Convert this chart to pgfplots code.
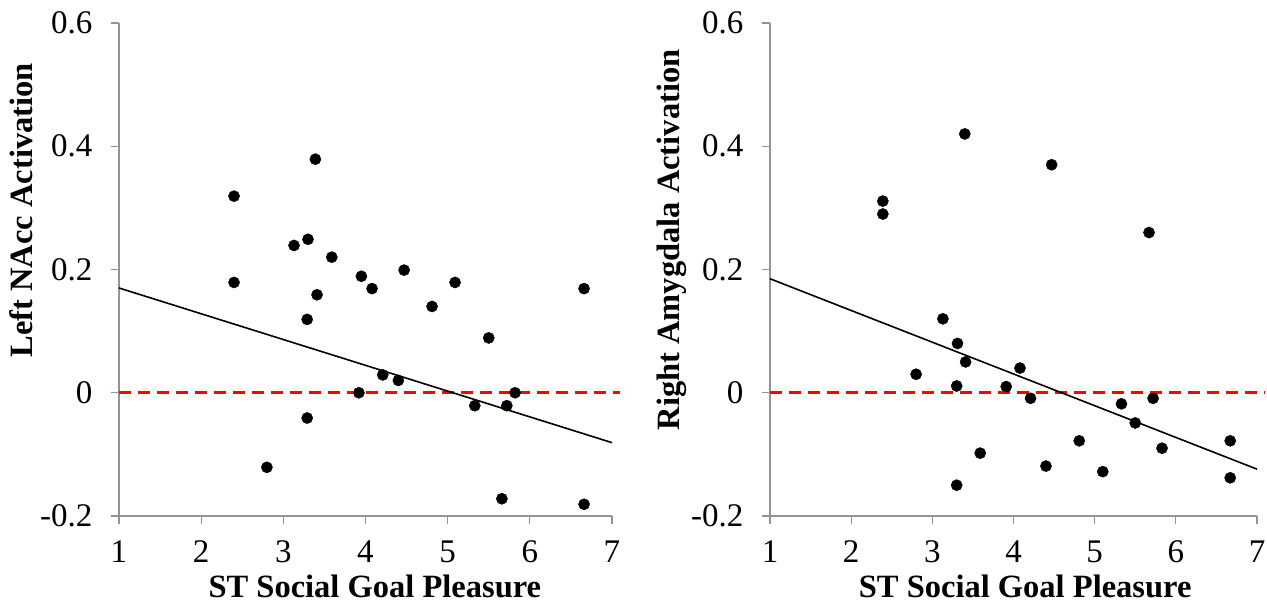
\documentclass[border=0pt]{standalone}
\usepackage{fontspec}
\setmainfont{Liberation Serif}
\usepackage{pgfplots}
\pgfplotsset{compat=1.18}
\begin{document}
\begin{tikzpicture}
\path[use as bounding box] (-119bp,-86bp) rectangle (1148bp,516bp);
\pgfplotsset{
 myax/.style={
  scale only axis, height=493bp,
  xmin=1, xmax=7, ymin=-0.2, ymax=0.6,
  axis x line*=bottom, axis y line*=left,
  axis line style={draw=gray!85, line width=1.3bp, -},
  xtick={1,2,3,4,5,6,7}, xticklabels={1,2,3,4,5,6,7},
  ytick={-0.2,0,0.2,0.4,0.6}, yticklabels={-0.2,0,0.2,0.4,0.6},
  tick align=outside, major tick length=8bp,
  tick style={draw=gray!85, line width=1.3bp},
  ticklabel style={font=\fontsize{33bp}{33bp}\selectfont},
  xticklabel style={yshift=-13bp},
  yticklabel style={xshift=-15bp},
  label style={font=\fontsize{32.5bp}{32bp}\selectfont\bfseries},
  xlabel={ST Social Goal Pleasure},
  clip=false,
 },
 dots/.style={only marks, mark=*, mark size=5.6bp, black},
 zero/.style={red, line width=3bp, dash pattern=on 12bp off 7bp, no marks},
 trend/.style={black, line width=1.6bp, no marks},
}
\begin{axis}[myax, width=493bp, at={(0,0)}, anchor=south west,
  xlabel style={at={(axis description cs:0.519,0)}, anchor=base, yshift=-81bp},
  ylabel={Left NAcc Activation},
  ylabel style={at={(axis description cs:0,0.62)}, anchor=base, yshift=86bp}]
\addplot[zero] coordinates {(1,0) (7.1,0)};
\addplot[trend] coordinates {(1,0.170) (7,-0.081)};
\addplot[dots] coordinates {
(2.40,0.319) (2.40,0.179) (2.80,-0.121) (3.13,0.239) (3.30,0.249)
(3.29,0.119) (3.29,-0.041) (3.39,0.379) (3.41,0.159) (3.59,0.220)
(3.92,0.000) (3.95,0.189) (4.08,0.169) (4.21,0.029) (4.40,0.020)
(4.47,0.199) (4.81,0.140) (5.09,0.179) (5.33,-0.021) (5.50,0.089)
(5.66,-0.172) (5.72,-0.021) (5.82,0.000) (6.66,0.169) (6.66,-0.181)
};
\end{axis}
\begin{axis}[myax, width=487bp, at={(651bp,0)}, anchor=south west,
  xlabel style={at={(axis description cs:0.524,0)}, anchor=base, yshift=-81bp},
  ylabel={Right Amygdala Activation},
  ylabel style={at={(axis description cs:0,0.56)}, anchor=base, yshift=91bp}]
\addplot[zero] coordinates {(1,0) (7.1,0)};
\addplot[trend] coordinates {(1,0.185) (7,-0.124)};
\addplot[dots] coordinates {
(2.39,0.311) (2.39,0.290) (2.80,0.030) (3.13,0.120) (3.31,0.080)
(3.30,0.011) (3.30,-0.150) (3.40,0.420) (3.41,0.050) (3.59,-0.098)
(3.91,0.010) (4.08,0.040) (4.21,-0.009) (4.40,-0.119) (4.47,0.370)
(4.81,-0.078) (5.10,-0.128) (5.33,-0.018) (5.50,-0.049) (5.67,0.260)
(5.72,-0.009) (5.83,-0.090) (6.67,-0.078) (6.67,-0.138)
};
\end{axis}
\end{tikzpicture}
\end{document}
